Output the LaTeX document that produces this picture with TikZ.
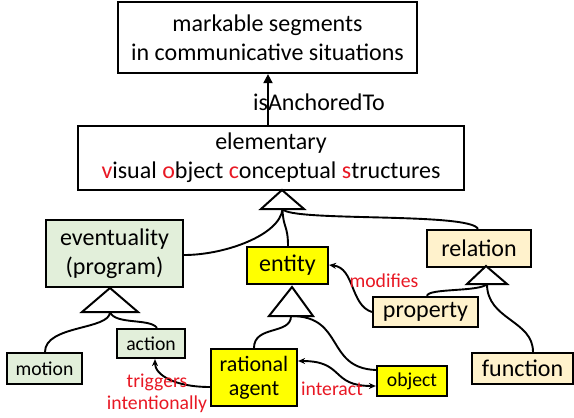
\documentclass[tikz,border=0pt]{standalone}
\usepackage{fontspec}
\setmainfont{Carlito}
\usetikzlibrary{arrows.meta}
\definecolor{evgreen}{RGB}{226,239,218}
\definecolor{entyellow}{RGB}{255,255,0}
\definecolor{relbeige}{RGB}{255,242,204}
\definecolor{lblred}{RGB}{232,24,36}
\begin{document}
\begin{tikzpicture}[x=1pt,y=-1pt,
  box/.style={draw=black,line width=2.2pt,inner sep=0pt,align=center},
  big/.style={font=\fontsize{24}{29}\selectfont},
  small/.style={font=\fontsize{19.7}{23}\selectfont},
  tri/.style={draw=black,fill=white,line width=2pt,line join=miter},
  link/.style={draw=black,line width=1.9pt},
  rel/.style={draw=black,line width=1.9pt,-{Stealth[length=7pt,width=6pt]}},
  lbl/.style={text=lblred,font=\fontsize{19.7}{22}\selectfont,inner sep=0pt,align=center}]
\useasboundingbox (0,0) rectangle (574,418);
% nodes
\node[box,big,minimum width=299pt,minimum height=71pt] (top) at (267.5,37.5) {markable segments\\in communicative situations};
\node[box,big,minimum width=386pt,minimum height=64pt] (elem) at (271,158) {elementary\\\textcolor{lblred}{v}isual \textcolor{lblred}{o}bject \textcolor{lblred}{c}onceptual \textcolor{lblred}{s}tructures};
\node[box,big,fill=evgreen,minimum width=137pt,minimum height=67pt] (ev) at (114.5,253.5) {eventuality\\(program)};
\node[box,small,fill=evgreen,minimum width=75pt,minimum height=31pt] (motion) at (44.5,368.5) {motion};
\node[box,small,fill=evgreen,minimum width=68pt,minimum height=29pt] (action) at (151,343.5) {action};
\node[box,fill=entyellow,font=\fontsize{22}{24}\selectfont,minimum width=86pt,minimum height=57pt] (ra) at (254,377.5) {rational\\agent};
\node[box,big,fill=entyellow,minimum width=81pt,minimum height=37pt] (entity) at (287.5,265.5) {entity};
\node[box,small,fill=entyellow,minimum width=70pt,minimum height=30pt] (object) at (412,381) {object};
\node[box,big,fill=relbeige,minimum width=104pt,minimum height=37pt] (relation) at (479,248.5) {relation};
\node[box,big,fill=relbeige,minimum width=105pt,minimum height=30pt] (property) at (425.5,312) {property};
\node[box,big,fill=relbeige,minimum width=101pt,minimum height=31pt] (function) at (522.5,368.5) {function};
% triangles
\coordinate (t1) at (282.5,209);
\coordinate (t2) at (110,312);
\coordinate (t3) at (291,316);
\coordinate (t4) at (487,284);
% tree links
\draw[link] (t1) .. controls (280,235) and (225,255) .. (ev.east |- 0,255);
\draw[link] (t1) .. controls (283,228) and (288,225) .. (entity.north -| 288,0);
\draw[link] (t1) .. controls (290,222) and (470,212) .. (relation.north -| 478,0);
\draw[link] (t2) .. controls (110,330) and (45,325) .. (motion.north -| 45,0);
\draw[link] (t2) .. controls (115,325) and (150,318) .. (action.north -| 157,0);
\draw[link] (t3) .. controls (291,335) and (254,325) .. (ra.north -| 254,0);
\draw[link] (t3) .. controls (345,316) and (325,368) .. (object.west |- 0,370);
\draw[link] (property.north -| 427,0) .. controls (428,288) and (480,292) .. (t4);
\draw[link] (function.north -| 533,0) .. controls (533,320) and (487,320) .. (t4);
\draw[tri] (282,190) -- (304,209) -- (261,209) -- cycle;
\draw[tri] (110,288) -- (138,312) -- (82,312) -- cycle;
\draw[tri] (292,287) -- (313,316) -- (269,316) -- cycle;
\draw[tri] (486,266) -- (507,284) -- (467,284) -- cycle;
% relations
\draw[line width=1.9pt,-{Triangle[length=9pt,width=9pt]}] (elem.north -| 268,0) -- (top.south -| 268,0);
\node[big,inner sep=0pt] (anch) at (319,102) {isAnchoredTo};
\draw[rel] (ra.west |- 0,387) .. controls (175,387) and (155,375) .. (action.south -| 155,0);
\draw[rel] (property.west |- 0,312) .. controls (350,305) and (355,268) .. (entity.east |- 0,265);
\draw[rel,{Stealth[length=7pt,width=6pt]}-{Stealth[length=7pt,width=6pt]}] (ra.east |- 0,361) .. controls (345,361) and (330,386) .. (object.west |- 0,386);
\node[lbl] (trig) at (157,393) {triggers\\intentionally};
\node[lbl] (modif) at (384,281) {modifies};
\node[lbl] (inter) at (332,389) {interact};
\end{tikzpicture}
\end{document}
